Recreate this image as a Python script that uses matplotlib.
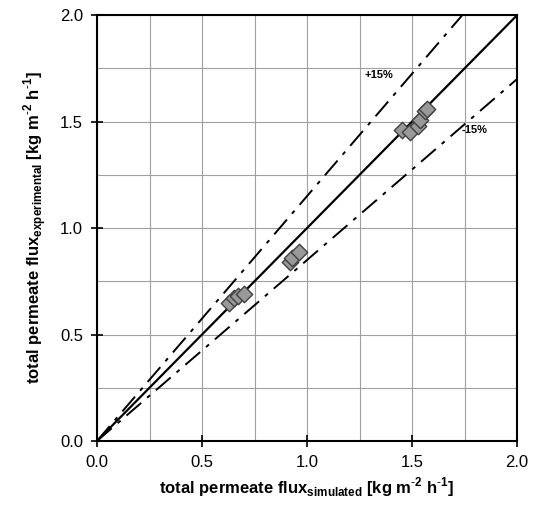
import matplotlib.pyplot as plt
import numpy as np
from matplotlib.ticker import MultipleLocator

plt.rcParams['font.family'] = ['Liberation Sans', 'DejaVu Sans']
plt.rcParams['mathtext.fontset'] = 'custom'
plt.rcParams['mathtext.rm'] = 'Liberation Sans'
plt.rcParams['mathtext.bf'] = 'Liberation Sans:bold'

# simulated vs experimental total permeate flux [kg m-2 h-1]
flux_sim = [0.63, 0.65, 0.67, 0.70, 0.92, 0.93, 0.96,
            1.45, 1.49, 1.53, 1.54, 1.56, 1.57]
flux_exp = [0.65, 0.67, 0.68, 0.69, 0.84, 0.86, 0.89,
            1.46, 1.45, 1.48, 1.51, 1.55, 1.56]

line_x = [0.0, 2.0]
dev = 0.15

fig = plt.figure(figsize=(5.33, 5.08), dpi=100)
ax = fig.add_axes([0.182, 0.132, 0.788, 0.838])

ax.plot(line_x, line_x, color='black', lw=1.6, zorder=3)
ax.plot(line_x, [v * (1 + dev) for v in line_x], color='black', lw=1.4,
        dashes=(10, 4, 2, 4), zorder=3)
ax.plot(line_x, [v * (1 - dev) for v in line_x], color='black', lw=1.4,
        dashes=(10, 4, 2, 4), zorder=3)

ax.scatter(flux_sim, flux_exp, marker='D', s=70, facecolor='#999999',
           edgecolor='#404040', linewidth=1.0, zorder=4)

ax.text(1.34, 1.72, '+15%', fontsize=8, fontweight='bold', ha='center', va='center')
ax.text(1.80, 1.46, '-15%', fontsize=8, fontweight='bold', ha='center', va='center')

ax.set_xlim(0, 2)
ax.set_ylim(0, 2)
ax.xaxis.set_major_locator(MultipleLocator(0.5))
ax.yaxis.set_major_locator(MultipleLocator(0.5))
ax.xaxis.set_minor_locator(MultipleLocator(0.25))
ax.yaxis.set_minor_locator(MultipleLocator(0.25))
ax.xaxis.set_major_formatter(plt.FormatStrFormatter('%.1f'))
ax.yaxis.set_major_formatter(plt.FormatStrFormatter('%.1f'))
ax.grid(True, which='both', color='#a0a0a0', lw=0.8)
ax.set_axisbelow(True)
ax.tick_params(which='major', direction='inout', length=8, width=1.2, labelsize=12, pad=6)
ax.tick_params(which='minor', length=0)
for s in ax.spines.values():
    s.set_linewidth(1.5)

ax.set_xlabel(r'total permeate flux$_{\mathbf{simulated}}$ [kg m$^{\mathbf{\text{-}2}}$ h$^{\mathbf{\text{-}1}}$]',
              fontsize=12, fontweight='bold', labelpad=4)
ax.set_ylabel(r'total permeate flux$_{\mathbf{experimental}}$ [kg m$^{\mathbf{\text{-}2}}$ h$^{\mathbf{\text{-}1}}$]',
              fontsize=12, fontweight='bold', labelpad=8)

fig.savefig('out.png', dpi=100)
